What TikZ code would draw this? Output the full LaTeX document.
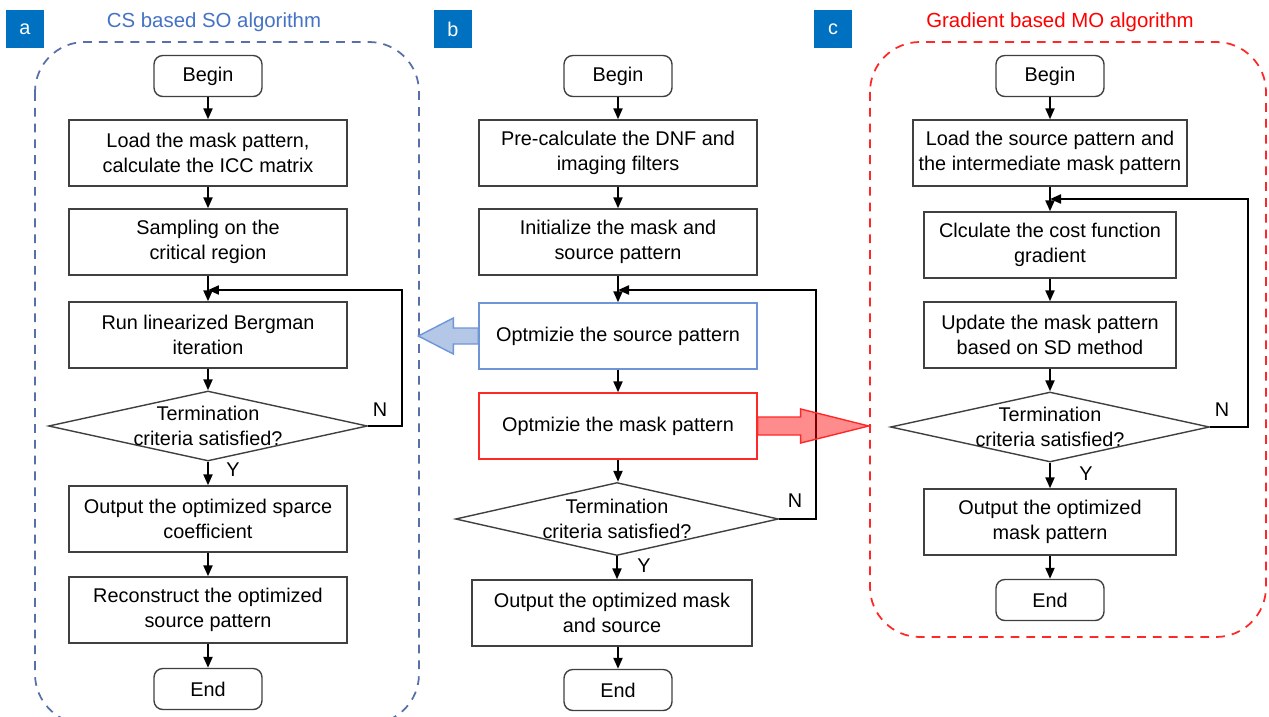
\documentclass[tikz,border=0pt]{standalone}
\usepackage{fontspec}
\setmainfont{Liberation Sans}
\usetikzlibrary{positioning,arrows.meta,shapes.geometric}

\definecolor{panelblue}{RGB}{0,112,192}
\definecolor{soblue}{RGB}{68,114,196}
\definecolor{sodash}{RGB}{88,112,168}
\definecolor{srcline}{RGB}{110,150,215}
\definecolor{srcfill}{RGB}{180,199,231}
\definecolor{moline}{RGB}{255,40,40}
\definecolor{boxline}{RGB}{64,64,64}

\newcommand\boxfont{\fontsize{11.3}{14.2}\selectfont}
\newcommand\headfont{\fontsize{11.6}{14}\selectfont}

\tikzset{
  proc/.style={draw=boxline, line width=0.8pt, minimum width=5.56cm, minimum height=1.32cm,
    align=center, inner sep=2pt},
  term/.style={draw=boxline, line width=0.8pt, rounded corners=5pt, minimum width=2.16cm,
    minimum height=0.82cm},
  decide/.style={diamond, draw=boxline, line width=0.8pt, minimum width=6.38cm,
    minimum height=1.4cm, inner sep=0pt},
  flow/.style={-{Triangle[length=2.2mm,width=1.8mm]}, line width=1.2pt},
  tag/.style={fill=panelblue, text=white, minimum size=0.76cm, inner sep=0pt},
  frame/.style={line width=1pt, rounded corners=1cm, dash pattern=on 5pt off 4pt},
}

\begin{document}
\begin{tikzpicture}[x=0.02cm, y=-0.02cm, every node/.style={font=\boxfont}]
  \useasboundingbox (0,0) rectangle (1269,717);

  % panel a: CS based SO
  \node[tag] (tagA) at (25,29) {a};
  \node[text=soblue, font=\headfont] (titleA) at (214,22) {CS based SO algorithm};
  \draw[frame, draw=sodash] (35,42) rectangle (419,724);
  \node[term] (beginA) at (208,76) {Begin};
  \node[proc] (loadA) at (208,153) {Load the mask pattern,\\calculate the ICC matrix};
  \node[proc] (sampA) at (208,242) {Sampling on the\\critical region};
  \node[proc] (runA) at (208,335) {Run linearized Bergman\\iteration};
  \node[decide, label={[align=center]center:Termination\\criteria satisfied?}] (decA) at (208,426) {};
  \node[proc] (outA) at (208,519) {Output the optimized sparce\\coefficient};
  \node[proc] (recA) at (208,610) {Reconstruct the optimized\\source pattern};
  \node[term] (endA) at (208,689) {End};
  \coordinate (joinA) at (208,290);
  \node (noA) at (380,410) {N};
  \node (yesA) at (233,470) {Y};
  \draw[flow] (beginA) -- (loadA);
  \draw[flow] (loadA) -- (sampA);
  \draw[flow] (sampA) -- (runA);
  \draw[flow] (runA) -- (decA);
  \draw[flow] (decA) -- (outA);
  \draw[flow] (outA) -- (recA);
  \draw[flow] (recA) -- (endA);
  \draw[flow] (decA.east) -- ++(34,0) |- (joinA);

  % panel b: joint SMO
  \node[tag] (tagB) at (453,29) {b};
  \node[term] (beginB) at (618,76) {Begin};
  \node[proc] (preB) at (618,153) {Pre-calculate the DNF and\\imaging filters};
  \node[proc] (initB) at (618,242) {Initialize the mask and\\source pattern};
  \node[proc, draw=srcline] (srcB) at (618,336) {Optmizie the source pattern};
  \node[proc, draw=moline] (maskB) at (618,426) {Optmizie the mask pattern};
  \node[decide, minimum width=6.46cm, minimum height=1.46cm,
    label={[align=center]center:Termination\\criteria satisfied?}] (decB) at (617,519) {};
  \node[proc, minimum width=5.6cm] (outB) at (612,613) {Output the optimized mask\\and source};
  \node[term] (endB) at (618,690) {End};
  \coordinate (joinB) at (618,290);
  \node (noB) at (795,501) {N};
  \node (yesB) at (644,566) {Y};
  \draw[flow] (beginB) -- (preB);
  \draw[flow] (preB) -- (initB);
  \draw[flow] (initB) -- (srcB);
  \draw[flow] (srcB) -- (maskB);
  \draw[flow] (maskB) -- (maskB |- decB.north);
  \draw[flow] (decB.south) -- (decB.south |- outB.north);
  \draw[flow] (endB |- outB.south) -- (endB);
  \draw[flow] (decB.east) -- ++(37,0) |- (joinB);
  \draw[draw=srcline, fill=srcfill, line width=0.8pt]
    (srcB.west) ++(0,-8) -- ++(-25,0) -- ++(0,-10) -- ++(-35,18) -- ++(35,18)
    -- ++(0,-10) -- ++(25,0) -- cycle;
  \draw[draw=moline, fill=red, fill opacity=0.45, line width=0.8pt]
    (maskB.east) ++(0,-9) -- ++(43,0) -- ++(0,-8) -- ++(68,17) -- ++(-68,17)
    -- ++(0,-8) -- ++(-43,0) -- cycle;

  % panel c: gradient based MO
  \node[tag] (tagC) at (833,29) {c};
  \node[text=red, font=\headfont] (titleC) at (1060,22) {Gradient based MO algorithm};
  \draw[frame, draw=moline] (870,42) rectangle (1266,637);
  \node[term] (beginC) at (1050,76) {Begin};
  \node[proc, minimum width=5.48cm] (loadC) at (1050,153) {Load the source pattern and\\the intermediate mask pattern};
  \node[proc, minimum width=5.04cm] (gradC) at (1050,245) {Clculate the cost function\\gradient};
  \node[proc, minimum width=5.04cm] (updC) at (1050,335) {Update the mask pattern\\based on SD method};
  \node[decide, label={[align=center]center:Termination\\criteria satisfied?}] (decC) at (1050,427) {};
  \node[proc, minimum width=5.04cm] (outC) at (1050,522) {Output the optimized\\mask pattern};
  \node[term] (endC) at (1050,600) {End};
  \coordinate (joinC) at (1050,199);
  \node (noC) at (1222,410) {N};
  \node (yesC) at (1086,474) {Y};
  \draw[flow] (beginC) -- (loadC);
  \draw[flow] (loadC) -- (gradC);
  \draw[flow] (gradC) -- (updC);
  \draw[flow] (updC) -- (decC);
  \draw[flow] (decC) -- (outC);
  \draw[flow] (outC) -- (endC);
  \draw[flow] (decC.east) -- ++(38,0) |- (joinC);
\end{tikzpicture}
\end{document}
